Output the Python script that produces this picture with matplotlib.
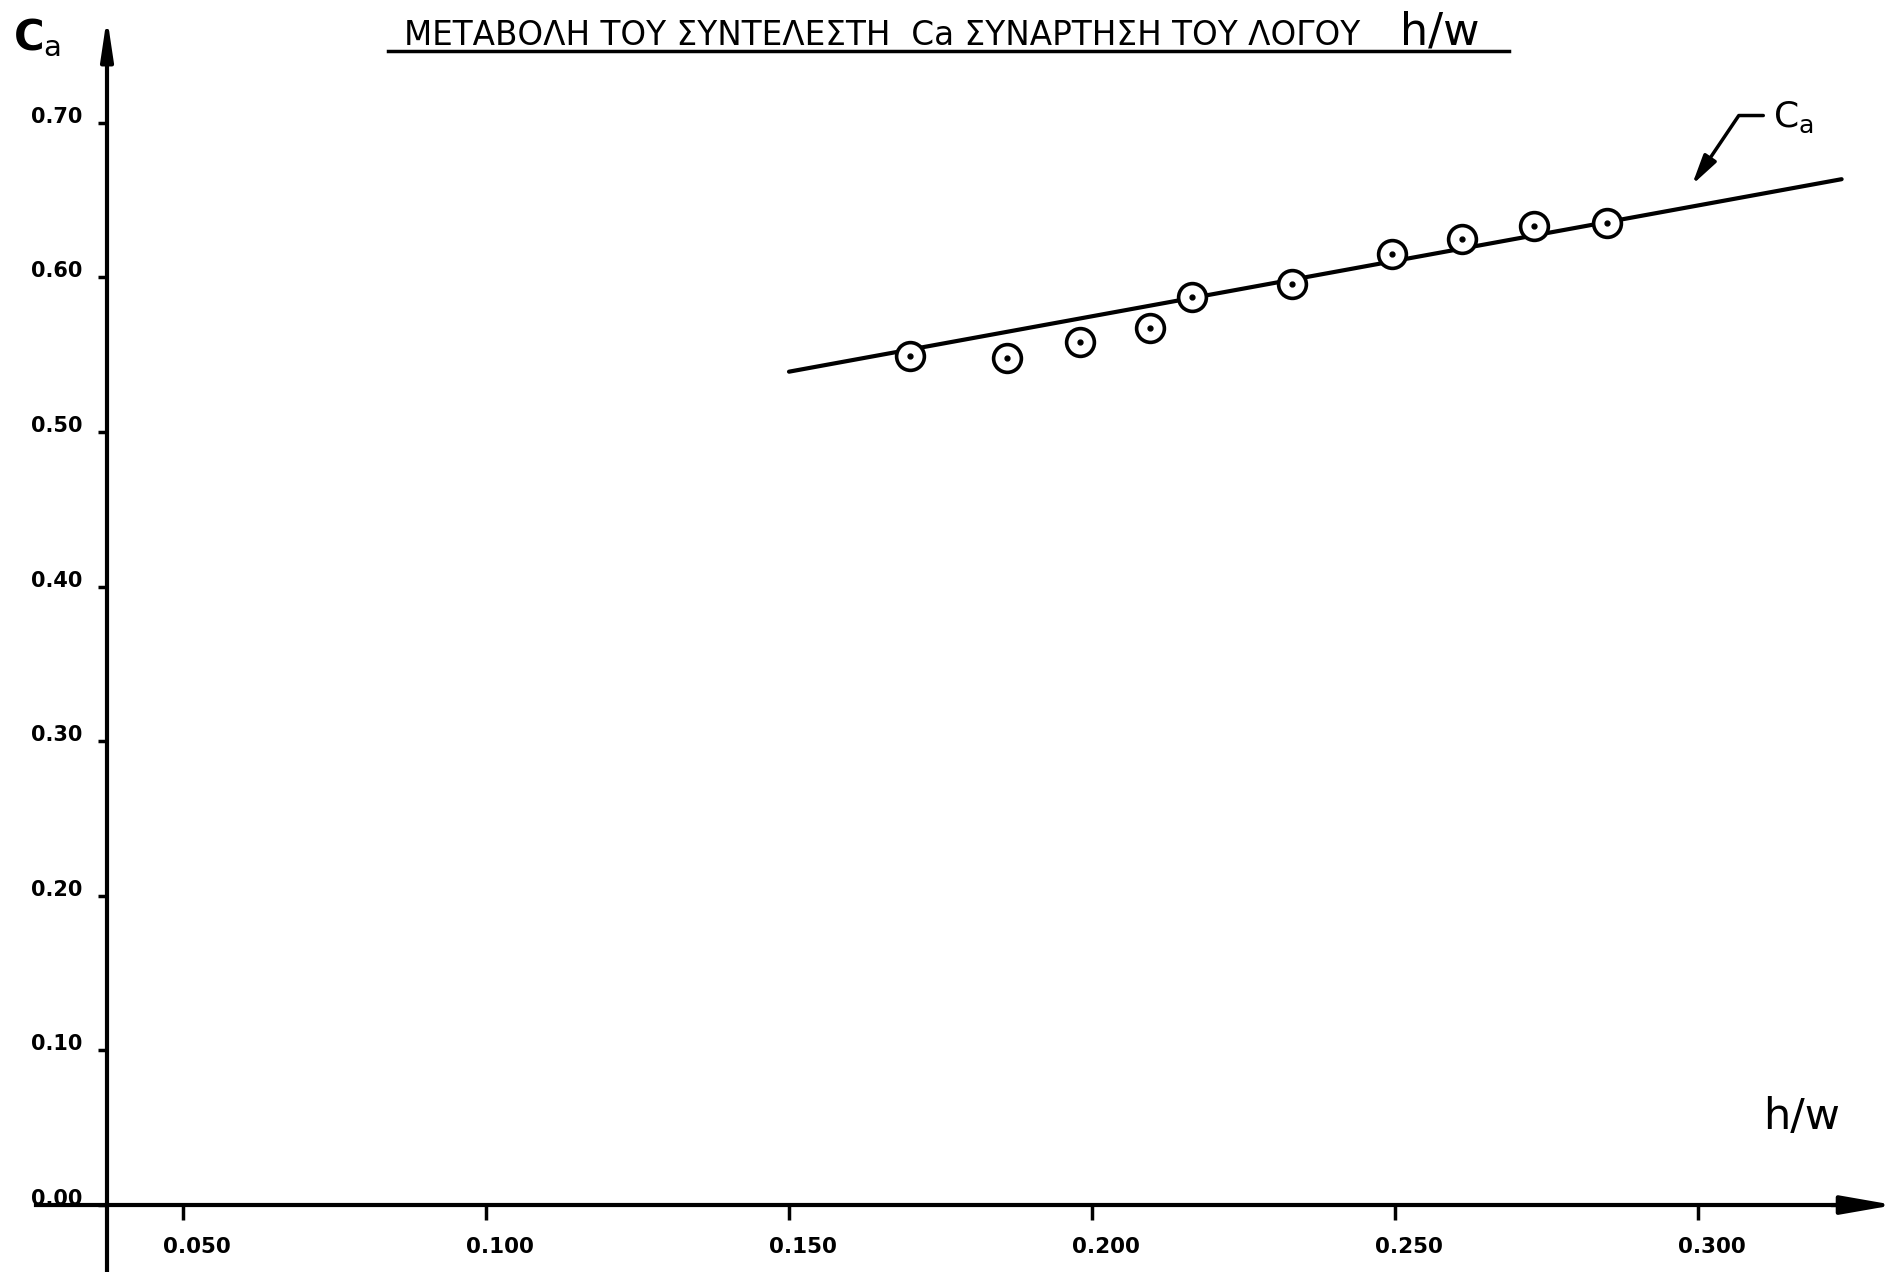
import matplotlib.pyplot as plt
from matplotlib.lines import Line2D
from matplotlib.transforms import ScaledTranslation

# measured points: ratio h/w and coefficient Ca
hw = [0.170, 0.186, 0.198, 0.2095, 0.2165, 0.233, 0.2495, 0.261, 0.273, 0.285]
ca = [0.549, 0.548, 0.558, 0.567, 0.587, 0.596, 0.615, 0.625, 0.633, 0.635]

# straight line drawn through the points
fit_hw = [0.150, 0.3237]
fit_ca = [0.539, 0.6635]

xticks = [0.050, 0.100, 0.150, 0.200, 0.250, 0.300]
xlabels = ['0.050', '0.100', '0.150', '0.200', '0.250', '0.300']
yticks = [0.0, 0.1, 0.2, 0.3, 0.4, 0.5, 0.6, 0.7]
ylabels = ['0.00', '0.10', '0.20', '0.30', '0.40', '0.50', '0.60', '0.70']

title = 'ΜΕΤΑΒΟΛΗ ΤΟΥ ΣΥΝΤΕΛΕΣΤΗ  Ca ΣΥΝΑΡΤΗΣΗ ΤΟΥ ΛΟΓΟΥ'

fig = plt.figure(figsize=(19.01, 12.72), dpi=100, facecolor='white')
ax = fig.add_axes([0, 0, 1, 1])
ax.set_xlim(0.0198, 0.3335)
ax.set_ylim(-0.0433, 0.7794)

# hand drawn axes: y axis crosses at h/w ~ 0.037
y_axis_x = 0.03746
for side in ['top', 'right']:
    ax.spines[side].set_visible(False)
ax.spines['left'].set_position(('data', y_axis_x))
ax.spines['bottom'].set_position(('data', 0))
ax.spines['left'].set_bounds(-0.0433, 0.75)
ax.spines['bottom'].set_bounds(0.0257, 0.325)
ax.spines['left'].set_linewidth(3)
ax.spines['bottom'].set_linewidth(3)

# arrow heads
ax.annotate('', xy=(0.3324, 0), xytext=(0.322, 0),
            arrowprops=dict(arrowstyle='-|>,head_length=1.6,head_width=0.28',
                            lw=3, color='black', mutation_scale=20,
                            shrinkA=0, shrinkB=0))
ax.annotate('', xy=(y_axis_x, 0.7684), xytext=(y_axis_x, 0.745),
            arrowprops=dict(arrowstyle='-|>,head_length=1.2,head_width=0.18',
                            lw=3, color='black', mutation_scale=20,
                            shrinkA=0, shrinkB=0))

ax.set_xticks(xticks)
ax.set_xticklabels(xlabels, fontweight='bold')
ax.set_yticks(yticks)
ax.set_yticklabels(ylabels, fontweight='bold')
ax.tick_params(axis='x', direction='out', length=11, width=2.5, pad=12, labelsize=15.5)
ax.tick_params(axis='y', direction='out', length=6.5, width=2.5, pad=11, labelsize=15)

# labels sit a little off their tick marks in the drawing
for lab in ax.get_xticklabels():
    lab.set_transform(lab.get_transform() + ScaledTranslation(0.14, 0, fig.dpi_scale_trans))
for lab in ax.get_yticklabels():
    lab.set_transform(lab.get_transform() + ScaledTranslation(0, 0.08, fig.dpi_scale_trans))

# fitted line and the circled points
ax.plot(fit_hw, fit_ca, color='black', lw=3, solid_capstyle='round')
ax.plot(hw, ca, 'o', ms=20, mfc='white', mec='black', mew=2.6, ls='none')
ax.plot(hw, ca, 'o', ms=3.5, color='black', ls='none')

# curve label with bent leader arrow
ax.annotate(r'C$_{\mathrm{a}}$', xy=(0.29901, 0.6598), xytext=(0.31238, 0.6973),
            ha='left', va='baseline', fontsize=26,
            arrowprops=dict(arrowstyle='-|>,head_length=0.9,head_width=0.22',
                            connectionstyle='angle,angleA=0,angleB=56,rad=0',
                            relpos=(0, 0.55), lw=2.5, color='black',
                            mutation_scale=20, shrinkA=5, shrinkB=0))

# axis titles
ax.text(0.0068, 0.9607, r'C$_{\mathrm{a}}$', transform=ax.transAxes,
        ha='left', va='baseline', fontsize=30, fontweight='bold')
ax.text(0.9479, 0.1219, 'h/w', transform=ax.transAxes,
        ha='center', va='center', fontsize=31)

# underlined title
fig.text(0.2125, 0.9646, title, ha='left', va='baseline', fontsize=23.5)
fig.text(0.7365, 0.9654, 'h/w', ha='left', va='baseline', fontsize=32)
fig.add_artist(Line2D([0.2041, 0.7938], [0.9599, 0.9599], transform=fig.transFigure,
                      color='black', lw=2.5))

fig.savefig('out.png', dpi=100, facecolor='white')
